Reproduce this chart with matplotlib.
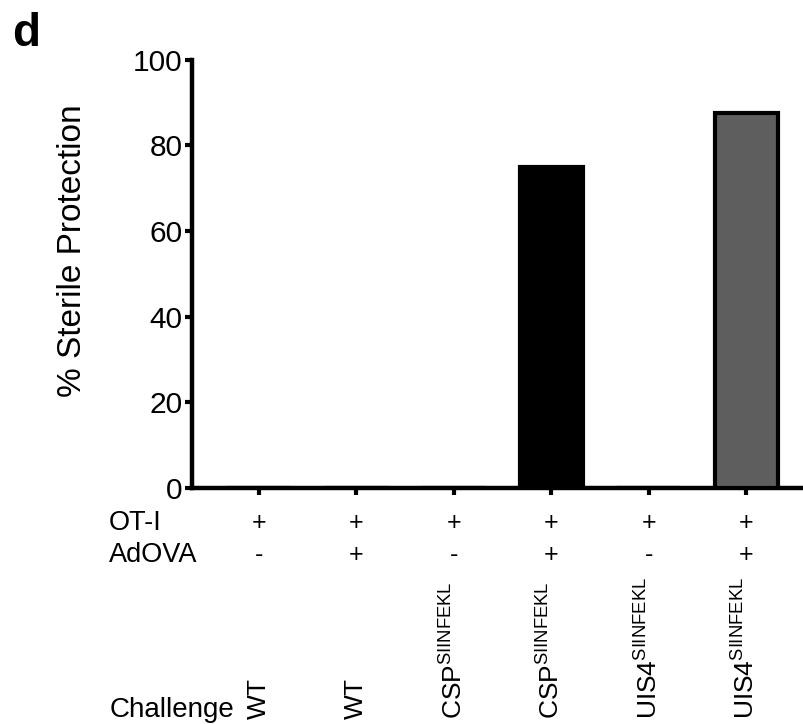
import matplotlib
matplotlib.use("Agg")
import matplotlib.pyplot as plt
from matplotlib import transforms

plt.rcParams['font.family'] = ['Liberation Sans', 'DejaVu Sans']
plt.rcParams['mathtext.fontset'] = 'custom'
plt.rcParams['mathtext.rm'] = 'Liberation Sans'
plt.rcParams['mathtext.it'] = 'Liberation Sans:italic'
plt.rcParams['mathtext.bf'] = 'Liberation Sans:bold'

# Data
groups = [0, 1, 2, 3, 4, 5]
protection = [0, 0, 0, 75, 0, 87.5]
bar_colors = ['#ffffff', '#ffffff', '#ffffff', '#000000', '#ffffff', '#5e5e5e']
ot1 = ['+', '+', '+', '+', '+', '+']
adova = ['-', '+', '-', '+', '-', '+']
challenge = ['WT', 'WT', r'CSP$^{\mathrm{SIINFEKL}}$', r'CSP$^{\mathrm{SIINFEKL}}$',
             r'UIS4$^{\mathrm{SIINFEKL}}$', r'UIS4$^{\mathrm{SIINFEKL}}$']
yticks = [0, 20, 40, 60, 80, 100]

W, H = 804, 724
fig = plt.figure(figsize=(W / 100, H / 100), dpi=100)
ax = fig.add_axes([192 / W, 1 - 488 / H, (W - 192) / W, (488 - 59.5) / H])

ax.bar(groups, protection, width=0.65, color=bar_colors, edgecolor='black',
       linewidth=3.0, zorder=3)

ax.set_xlim(-0.684, -0.684 + 612 / 97.5)
ax.set_ylim(0, 100)
ax.set_yticks(yticks)
ax.set_xticks(groups)
ax.set_xticklabels([])
for s in ['top', 'right']:
    ax.spines[s].set_visible(False)
for s in ['left', 'bottom']:
    ax.spines[s].set_linewidth(3.2)
    ax.spines[s].set_capstyle('projecting')
ax.tick_params(axis='both', width=3.0, length=5, labelsize=21.5, pad=2)
ax.set_ylabel('% Sterile Protection', fontsize=24)
ax.yaxis.set_label_coords(-(192 - 88) / 612, (488 - 251) / 428.5)

trans = transforms.blended_transform_factory(ax.transData, fig.transFigure)
row1_y = 1 - 523.5 / H
row2_y = 1 - 555.5 / H
fig.text(109 / W, row1_y, 'OT-I', fontsize=19.5, ha='left', va='center')
fig.text(109 / W, row2_y, 'AdOVA', fontsize=19.5, ha='left', va='center')
fig.text(110 / W, 1 - 717 / H, 'Challenge', fontsize=20, ha='left', va='baseline')
for g, a, b, c in zip(groups, ot1, adova, challenge):
    fig.text(g, row1_y, a, fontsize=18, ha='center', va='center', transform=trans)
    fig.text(g, row2_y, b, fontsize=18, ha='center', va='center', transform=trans)
    fig.text(g, 1 - 719 / H, c, fontsize=19, ha='center', va='bottom',
             rotation=90, transform=trans)

fig.text(12 / W, 1 - 46 / H, 'd', fontsize=33, fontweight='bold', ha='left', va='baseline')

fig.savefig('out.png', dpi=100)
